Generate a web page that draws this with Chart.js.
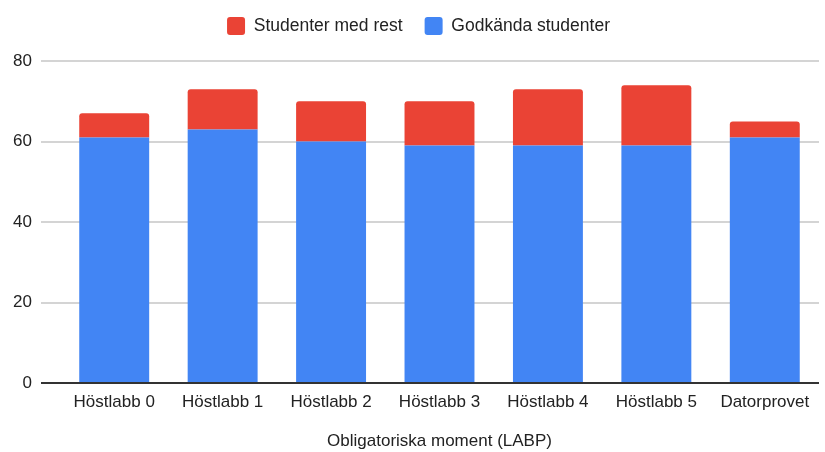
<!DOCTYPE html>
<html>
<head>
<meta charset="utf-8">
<script src="https://cdn.jsdelivr.net/npm/chart.js@4.4.1/dist/chart.umd.min.js"></script>
<style>
  html, body { margin: 0; padding: 0; background: #fff; }
  #wrap { width: 825px; height: 452px; position: relative; }
</style>
</head>
<body>
<div id="wrap"><canvas id="c" width="825" height="452"></canvas></div>
<script>
const categories = ["Höstlabb 0", "Höstlabb 1", "Höstlabb 2", "Höstlabb 3", "Höstlabb 4", "Höstlabb 5", "Datorprovet"];
const godkanda = [61, 63, 60, 59, 59, 59, 61];
const medRest = [6, 10, 10, 11, 14, 15, 4];
const yTicks = [0, 20, 40, 60, 80];

const FONT = "Arial, 'Liberation Sans', sans-serif";
const LEGEND_PAD = 22;
const LEGEND_Y = 17;
const LEGEND_DX = 9;
const PLOT_TOP = 61;
const gridColor = ctx => (ctx.tick && ctx.tick.value === 0) ? '#333333' : '#d4d4d4';

const legendSpace = {
  id: 'legendSpace',
  beforeUpdate(chart) {
    const lg = chart.legend;
    if (lg && !lg._patched) {
      const origFit = lg.fit.bind(lg);
      lg.fit = function () { origFit(); this.height = PLOT_TOP; };
      const origDraw = lg.draw.bind(lg);
      lg.draw = function () {
        const t = this.top, l = this.left, r = this.right;
        this.top = LEGEND_Y - LEGEND_PAD;
        this.left = l + LEGEND_DX;
        this.right = r + LEGEND_DX;
        origDraw();
        this.top = t; this.left = l; this.right = r;
      };
      lg._patched = true;
    }
  }
};

new Chart(document.getElementById('c'), {
  type: 'bar',
  data: {
    labels: categories,
    datasets: [
      {
        label: 'Godkända studenter',
        data: godkanda,
        backgroundColor: '#4285F4',
        borderWidth: 0,
        categoryPercentage: 1,
        barPercentage: 0.645
      },
      {
        label: 'Studenter med rest',
        data: medRest,
        backgroundColor: '#EA4335',
        borderWidth: 0,
        borderSkipped: 'bottom',
        borderRadius: { topLeft: 3, topRight: 3, bottomLeft: 0, bottomRight: 0 },
        categoryPercentage: 1,
        barPercentage: 0.645
      }
    ]
  },
  plugins: [legendSpace],
  options: {
    responsive: false,
    animation: false,
    devicePixelRatio: 1,
    layout: { padding: { left: 0, right: 6, top: 0, bottom: 0 } },
    plugins: {
      tooltip: { enabled: false },
      legend: {
        position: 'top',
        reverse: true,
        labels: {
          font: { family: FONT, size: 17.5 },
          color: '#222222',
          boxWidth: 18,
          boxHeight: 18,
          useBorderRadius: true,
          borderRadius: 3,
          padding: LEGEND_PAD
        }
      }
    },
    scales: {
      x: {
        stacked: true,
        grid: { display: false, drawTicks: false },
        border: { display: false },
        ticks: {
          font: { family: FONT, size: 17 },
          color: '#222222',
          padding: 9,
          maxRotation: 0,
          autoSkip: false
        },
        title: {
          display: true,
          text: 'Obligatoriska moment (LABP)',
          font: { family: FONT, size: 17 },
          color: '#222222',
          padding: { top: 4, bottom: 0 }
        },
        afterFit: s => { s.height = 69; }
      },
      y: {
        stacked: true,
        min: 0,
        max: 80,
        afterBuildTicks: s => { s.ticks = yTicks.map(v => ({ value: v })); },
        grid: {
          color: gridColor,
          tickColor: gridColor,
          lineWidth: 2,
          tickWidth: 2,
          drawTicks: true,
          tickLength: 19
        },
        border: { display: false },
        ticks: {
          font: { family: FONT, size: 17 },
          color: '#222222',
          padding: 9
        },
        afterFit: s => { s.width = 60; }
      }
    }
  }
});
</script>
</body>
</html>
